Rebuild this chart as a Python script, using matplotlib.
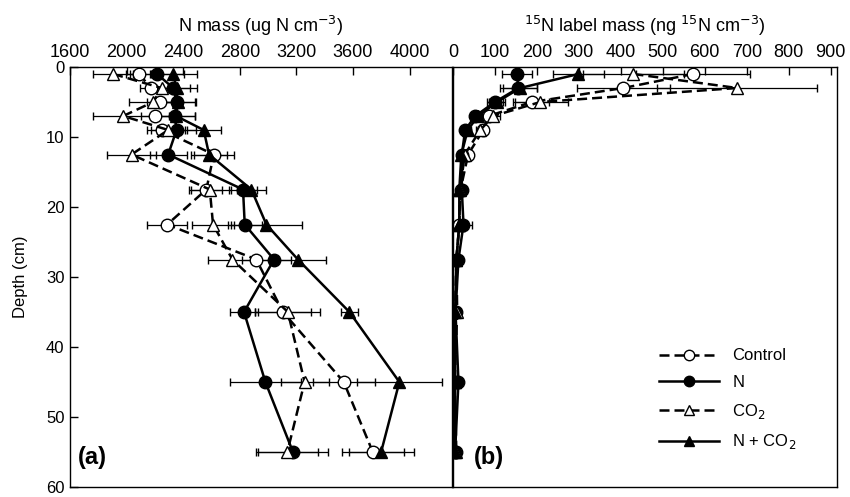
import numpy as np
import matplotlib
matplotlib.use('Agg')
import matplotlib.pyplot as plt
from matplotlib.lines import Line2D

plt.rcParams['font.family'] = ['Liberation Sans', 'DejaVu Sans']

# Depths (cm)
depth = [1, 3, 5, 7, 9, 12.5, 17.5, 22.5, 27.5, 35, 45, 55]

# (a) N mass, ug N cm-3
ctrl_n = [2085, 2176, 2235, 2200, 2247, 2616, 2564, 2287, 2917, 3105, 3535, 3740]
ctrl_n_err = [90, 80, 90, 100, 100, 140, 110, 140, 100, 200, 220, 220]
n_n = [2215, 2330, 2353, 2341, 2353, 2294, 2823, 2835, 3042, 2830, 2981, 3176]
n_n_err = [190, 120, 130, 140, 140, 130, 100, 120, 120, 100, 250, 250]
co2_n = [1905, 2247, 2188, 1976, 2294, 2035, 2588, 2611, 2748, 3140, 3258, 3136]
co2_n_err = [140, 100, 170, 215, 120, 170, 150, 150, 175, 230, 170, 220]
nco2_n = [2330, 2353, 2360, 2350, 2545, 2583, 2882, 2988, 3211, 3575, 3928, 3799]
nco2_n_err = [165, 145, 130, 130, 120, 130, 100, 250, 200, 60, 300, 230]

# (b) 15N label mass, ng 15N cm-3
ctrl_15 = [572, 406, 188, 85, 72, 36, 18, 15, 8, 5, 4, 8]
ctrl_15_err = [135, 110, 40, 15, 10, 5, 3, 3, 2, 1, 1, 2]
n_15 = [152, 156, 100, 53, 29, 21, 21, 25, 13, 6, 13, 5]
n_15_err = [36, 45, 20, 10, 8, 5, 5, 20, 5, 2, 3, 2]
co2_15 = [430, 677, 208, 96, 65, 28, 17, 15, 8, 10, 4, 6]
co2_15_err = [120, 190, 65, 15, 10, 5, 3, 3, 2, 2, 1, 2]
nco2_15 = [299, 160, 105, 60, 35, 20, 15, 15, 8, 5, 5, 5]
nco2_15_err = [60, 40, 20, 10, 8, 4, 3, 3, 2, 1, 1, 1]

labels = ['Control', 'N', 'CO$_2$', 'N + CO$_2$']
markers = ['o', 'o', '^', '^']
faces = ['white', 'black', 'white', 'black']
dash = (0, (4, 2))
styles = [dash, '-', dash, '-']

fig = plt.figure(figsize=(8.5, 4.97), dpi=100)
ax1 = fig.add_axes([70/850, 10/497, 382/850, 420/497])
ax2 = fig.add_axes([453/850, 10/497, 384/850, 420/497])

def draw(ax, xs, errs):
    for i in range(4):
        ax.errorbar(xs[i], depth, xerr=errs[i], color='black', ls=styles[i], lw=1.8,
                    marker=markers[i], ms=9, mfc=faces[i], mec='black', mew=1,
                    ecolor='black', elinewidth=0.9, capsize=3, capthick=0.9)

draw(ax1, [ctrl_n, n_n, co2_n, nco2_n], [ctrl_n_err, n_n_err, co2_n_err, nco2_n_err])
draw(ax2, [ctrl_15, n_15, co2_15, nco2_15], [ctrl_15_err, n_15_err, co2_15_err, nco2_15_err])

for ax in (ax1, ax2):
    ax.set_ylim(60, 0)
    ax.xaxis.tick_top()
    ax.xaxis.set_label_position('top')
    ax.tick_params(direction='in', length=6, labelsize=13, width=1)
    ax.tick_params(axis='x', pad=4)
    for s in ax.spines.values():
        s.set_linewidth(1)

ax1.set_xlim(1600, 4300)
ax1.set_xticks(np.arange(1600, 4001, 400))
ax1.set_yticks(np.arange(0, 61, 10))
ax1.tick_params(axis='y', labelsize=12, pad=4)
ax1.set_ylabel('Depth (cm)', fontsize=12, labelpad=13)
ax1.set_xlabel('N mass (ug N cm$^{-3}$)', fontsize=13, labelpad=9)
ax1.text(0.02, 0.055, '(a)', transform=ax1.transAxes, fontsize=17, fontweight='bold')

ax2.set_xlim(0, 915)
ax2.set_xticks(np.arange(0, 901, 100))
ax2.set_yticks([])
ax2.set_xlabel('$^{15}$N label mass (ng $^{15}$N cm$^{-3}$)', fontsize=13, labelpad=9)
ax2.text(0.055, 0.055, '(b)', transform=ax2.transAxes, fontsize=17, fontweight='bold')

handles = [Line2D([], [], color='black', ls=styles[i], lw=1.8, marker=markers[i], ms=7.5,
                  mfc=faces[i], mec='black') for i in range(4)]
ax2.legend(handles, labels, loc='upper left', bbox_to_anchor=(0.515, 0.35), frameon=False,
           fontsize=12, handlelength=3.6, handletextpad=0.8, labelspacing=0.7, borderpad=0)

fig.savefig('out.png', dpi=100)
